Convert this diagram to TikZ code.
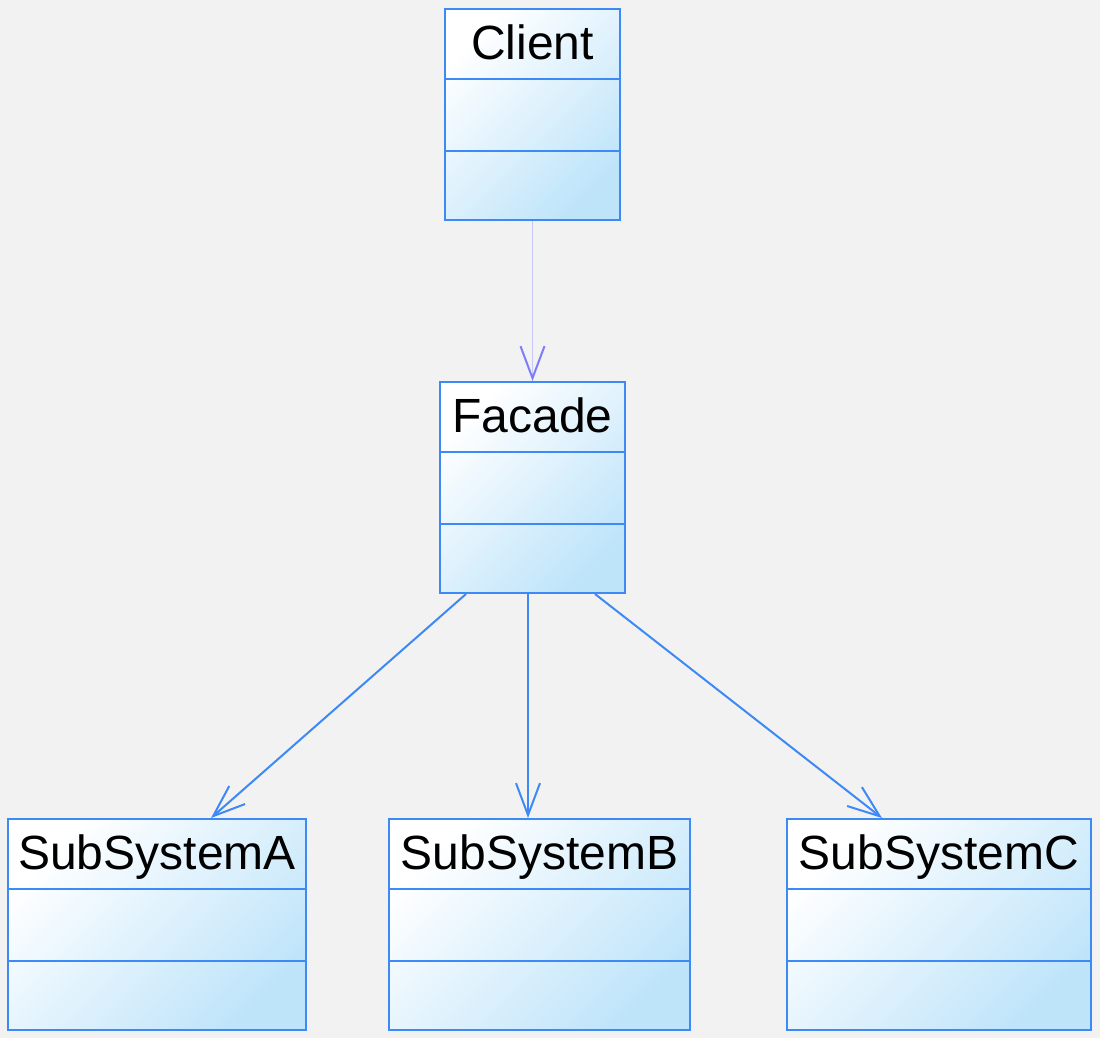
\documentclass[tikz,border=0pt]{standalone}
\usepackage{fontspec}
\setmainfont{Liberation Sans}
\usetikzlibrary{arrows.meta}
\definecolor{umlblue}{RGB}{61,137,245}
\definecolor{umlfill}{RGB}{190,228,250}
\definecolor{usepurple}{RGB}{125,125,245}
\definecolor{usepale}{RGB}{200,200,248}
\definecolor{canvas}{RGB}{242,242,242}
\tikzset{
    > = {Straight Barb[length=32pt, width=24pt]},
    classbox/.style = {
        rectangle, draw = umlblue, line width = 2pt,
        top color = white, bottom color = umlfill, shading angle = 45,
        minimum height = 211pt, anchor = north
    },
    classname/.style = {
        anchor = north, inner xsep = 0pt, inner ysep = 1.5pt,
        text height = 49.5pt, text depth = 19pt,
        font = \fontsize{48}{56}\selectfont
    },
    every edge/.style = {draw, ->, umlblue, line width = 2pt}
}

\begin{document}
\begin{tikzpicture}[x=1pt, y=-1pt]
    \fill[canvas] (0, 0) rectangle (1100, 1038);
    \useasboundingbox (0, 0) rectangle (1100, 1038);

    \node[classbox, minimum width=175pt] (client) at (532.5, 8) {};
    \node[classbox, minimum width=185pt] (facade) at (532.5, 381) {};
    \node[classbox, minimum width=298pt] (subA) at (157, 818) {};
    \node[classbox, minimum width=301pt] (subB) at (539.5, 818) {};
    \node[classbox, minimum width=304pt] (subC) at (939, 818) {};

    \node[classname] (clientname) at (client.north) {Client};
    \node[classname] (facadename) at (facade.north) {Facade};
    \node[classname] (subAname) at (subA.north) {SubSystemA};
    \node[classname] (subBname) at (subB.north) {SubSystemB};
    \node[classname] (subCname) at (subC.north) {SubSystemC};

    % compartments
    \foreach \c in {client, facade, subA, subB, subC} {
        \draw[umlblue, line width=2pt] ([yshift=-71pt]\c.north west) -- ([yshift=-71pt]\c.north east);
        \draw[umlblue, line width=2pt] ([yshift=70pt]\c.south west) -- ([yshift=70pt]\c.south east);
    }

    \draw[usepale, line width=1pt] (client.south) -- (facade.north);
    \draw[usepurple, line width=2pt, -{Straight Barb[length=32pt, width=24pt]}]
        ([yshift=4pt]facade.north) -- (facade.north);
    \draw ([xshift=-66.5pt]facade.south) edge ([xshift=54pt]subA.north);
    \draw ([xshift=-4.5pt]facade.south) edge ([xshift=-11.5pt]subB.north);
    \draw ([xshift=62.5pt]facade.south) edge ([xshift=-57pt]subC.north);
\end{tikzpicture}
\end{document}
